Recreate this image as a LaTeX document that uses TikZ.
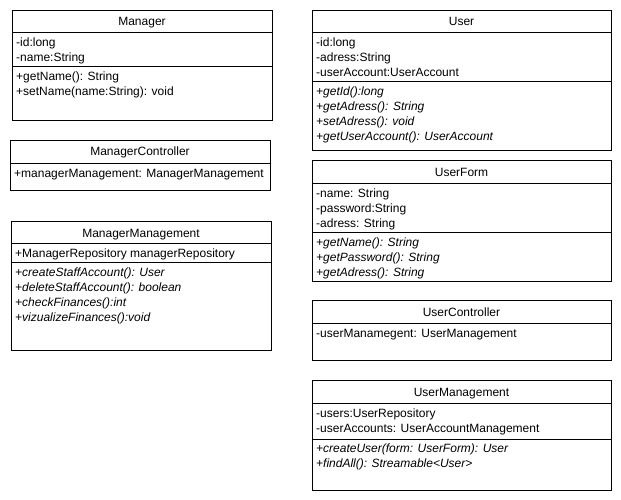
\documentclass[tikz,border=0pt]{standalone}
\usepackage{fontspec}
\setmainfont{Liberation Sans}
\tikzset{
	classbox/.style={draw, rectangle, line width=1pt, anchor=north west, inner sep=0pt},
	sepline/.style={line width=1pt},
	classname/.style={inner sep=0pt, anchor=base, font=\fontsize{12}{15}\selectfont},
	member/.style={inner sep=0pt, anchor=base west, font=\fontsize{12}{15}\selectfont},
	operation/.style={inner sep=0pt, anchor=base west, font=\fontsize{12}{15}\selectfont\itshape},
}
\begin{document}
\begin{tikzpicture}[x=1pt, y=-1pt]
			\useasboundingbox (0, 0) rectangle (621, 500);
			% Manager
			\node[classbox, minimum width=260pt, minimum height=110pt] (Manager) at (12, 10) {};
			\node[classname] (ManagerName) at (142, 26) {Manager};
			\draw[sepline] (12, 33) -- (272, 33);
			\draw[sepline] (12, 67) -- (272, 67);
			\foreach \m [count=\i] in {-id:long, -name:String}
				\node[member] (ManagerAttr\i) at (16, 32+15*\i) {\m};
			\foreach \m [count=\i] in {+getName(): String, +setName(name:String): void}
				\node[member] (ManagerOp\i) at (16, 66+15*\i) {\m};
			% ManagerController
			\node[classbox, minimum width=260pt, minimum height=50pt] (MgrCtrl) at (10, 140) {};
			\node[classname] (MgrCtrlName) at (140, 156) {ManagerController};
			\draw[sepline] (10, 163) -- (270, 163);
			\node[member] (MgrCtrlAttr) at (14, 177) {+managerManagement: ManagerManagement};
			% ManagerManagement
			\node[classbox, minimum width=260pt, minimum height=129pt] (MgrMgmt) at (11, 221) {};
			\node[classname] (MgrMgmtName) at (141, 237) {ManagerManagement};
			\draw[sepline] (11, 243) -- (271, 243);
			\draw[sepline] (11, 262) -- (271, 262);
			\node[member] (MgrMgmtAttr) at (15, 257) {+ManagerRepository managerRepository};
			\foreach \m [count=\i] in {+createStaffAccount(): User, +deleteStaffAccount(): boolean, +checkFinances():int, +vizualizeFinances():void}
				\node[operation] (MgrMgmtOp\i) at (15, 261+15*\i) {\m};
			% User
			\node[classbox, minimum width=299pt, minimum height=140pt] (User) at (312, 10) {};
			\node[classname] (UserName) at (461.5, 26) {User};
			\draw[sepline] (312, 33) -- (611, 33);
			\draw[sepline] (312, 82) -- (611, 82);
			\foreach \m [count=\i] in {-id:long, -adress:String, -userAccount:UserAccount}
				\node[member] (UserAttr\i) at (316, 32+15*\i) {\m};
			\foreach \m [count=\i] in {+getId():long, +getAdress(): String, +setAdress(): void, +getUserAccount(): UserAccount}
				\node[operation] (UserOp\i) at (316, 81+15*\i) {\m};
			% UserForm
			\node[classbox, minimum width=299pt, minimum height=121pt] (UserForm) at (312, 160) {};
			\node[classname] (UserFormName) at (461.5, 176) {UserForm};
			\draw[sepline] (312, 183) -- (611, 183);
			\draw[sepline] (312, 232) -- (611, 232);
			\foreach \m [count=\i] in {-name: String, -password:String, -adress: String}
				\node[member] (UserFormAttr\i) at (316, 182+15*\i) {\m};
			\foreach \m [count=\i] in {+getName(): String, +getPassword(): String, +getAdress(): String}
				\node[operation] (UserFormOp\i) at (316, 231+15*\i) {\m};
			% UserController
			\node[classbox, minimum width=299pt, minimum height=60pt] (UserCtrl) at (312, 300) {};
			\node[classname] (UserCtrlName) at (461.5, 316) {UserController};
			\draw[sepline] (312, 323) -- (611, 323);
			\node[member] (UserCtrlAttr) at (316, 337) {-userManamegent: UserManagement};
			% UserManagement
			\node[classbox, minimum width=299pt, minimum height=110pt] (UserMgmt) at (312, 380) {};
			\node[classname] (UserMgmtName) at (461.5, 396) {UserManagement};
			\draw[sepline] (312, 403) -- (611, 403);
			\draw[sepline] (312, 439) -- (611, 439);
			\foreach \m [count=\i] in {-users:UserRepository, -userAccounts: UserAccountManagement}
				\node[member] (UserMgmtAttr\i) at (316, 402+15*\i) {\m};
			\foreach \m [count=\i] in {+createUser(form: UserForm): User, +findAll(): Streamable<User>}
				\node[operation] (UserMgmtOp\i) at (316, 437+15*\i) {\m};
		\end{tikzpicture}
\end{document}
